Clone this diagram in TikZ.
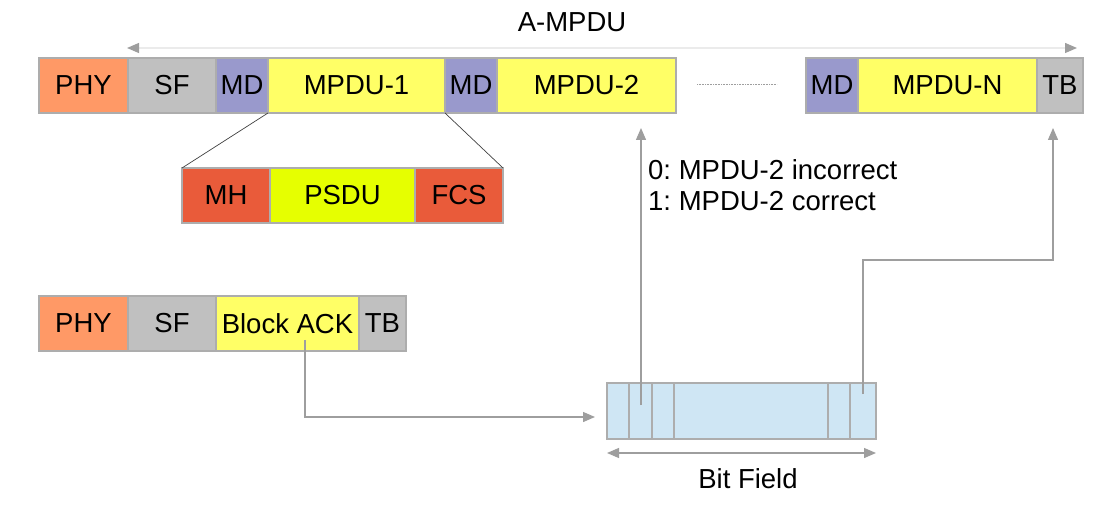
\documentclass[tikz,border=0pt]{standalone}
\usepackage{fontspec}
\setmainfont{Liberation Sans}
\usetikzlibrary{positioning,arrows.meta}
\frenchspacing

\begin{document}
\begin{tikzpicture}[
        x=1pt, y=-1pt,  % one unit is one pixel of the layout, y grows downwards
        font=\fontsize{27.5}{31}\selectfont,
        field/.style={draw=myborder, line width=1.2pt, inner sep=0pt, outer sep=0pt,
                      minimum height=55, anchor=north west},
        link/.style={draw=mygray, line width=1.3pt, -{Triangle[length=12pt,width=10pt]}},
        ]

        % 1. Define colors to match the image
        \colorlet{myborder}{black!32}
        \colorlet{mygray}{black!38}
        \definecolor{myorange}{HTML}{FF9966}
        \definecolor{mysilver}{HTML}{C0C0C0}
        \definecolor{mypurple}{HTML}{9999CC}
        \definecolor{myyellow}{HTML}{FFFF66}
        \definecolor{myred}{HTML}{E95B3A}
        \definecolor{mylime}{HTML}{E6FF00}
        \definecolor{mylightblue}{HTML}{CFE6F4}

        \useasboundingbox (0,0) rectangle (1097,510);

        % 2. The A-MPDU frame
        \node[field, fill=myorange, minimum width=89] (phyA) at (39,58) {PHY};
        \node[field, fill=mysilver, minimum width=88, right=0pt of phyA] (sfA) {SF};
        \node[field, fill=mypurple, minimum width=52, right=0pt of sfA] (mdA) {MD};
        \node[field, fill=myyellow, minimum width=177, right=0pt of mdA] (mpduA) {MPDU-1};
        \node[field, fill=mypurple, minimum width=52, right=0pt of mpduA] (mdB) {MD};
        \node[field, fill=myyellow, minimum width=179, right=0pt of mdB] (mpduB) {MPDU-2};
        \node[field, fill=mypurple, minimum width=52] (mdN) at (806,58) {MD};
        \node[field, fill=myyellow, minimum width=179, right=0pt of mdN] (mpduN) {MPDU-N};
        \node[field, fill=mysilver, minimum width=46, right=0pt of mpduN] (tbA) {TB};

        % dots between MPDU-2 and MPDU-N
        \coordinate (gapL) at (697,84);
        \coordinate (gapR) at (777,84);
        \draw[mygray, densely dotted, line width=0.6pt] (gapL) -- (gapR);

        % A-MPDU length arrow
        \coordinate (spanL) at (127,48);
        \coordinate (spanR) at (1077,48);
        \draw[draw=black!8, line width=1.3pt,
              {Triangle[length=12pt,width=10pt,color=mygray]}-{Triangle[length=12pt,width=10pt,color=mygray]}]
              (spanL) -- (spanR);
        \node[anchor=base] (ampdu) at (572,32) {A-MPDU};

        % 3. Inside of MPDU-1
        \node[field, fill=myred, minimum width=88] (mh) at (182,168) {MH};
        \node[field, fill=mylime, minimum width=145, right=0pt of mh] (psdu) {PSDU};
        \node[field, fill=myred, minimum width=88, right=0pt of psdu] (fcs) {FCS};
        \draw[black!75, line width=0.7pt] (mpduA.south west) -- (mh.north west);
        \draw[black!75, line width=0.7pt] (mpduA.south east) -- (fcs.north east);

        % 4. The Block ACK frame
        \node[field, fill=myorange, minimum width=89] (phyB) at (39,296) {PHY};
        \node[field, fill=mysilver, minimum width=88, right=0pt of phyB] (sfB) {SF};
        \node[field, fill=myyellow, minimum width=143, right=0pt of sfB] (ack) {Block ACK};
        \node[field, fill=mysilver, minimum width=47, right=0pt of ack] (tbB) {TB};

        % 5. The bit field
        \node[field, fill=mylightblue, minimum width=269, minimum height=56] (bits) at (607,383) {};
        \foreach \dx in {22,45,67,221,243}
            \draw[myborder, line width=1.2pt] ([xshift=\dx pt]bits.north west) -- ([xshift=\dx pt]bits.south west);
        \draw[draw=mygray, line width=1.3pt,
              {Triangle[length=12pt,width=10pt]}-{Triangle[length=12pt,width=10pt]}]
              ([yshift=-14pt]bits.south west) -- ([yshift=-14pt]bits.south east);
        \node[anchor=base] (bitlabel) at (748,488) {Bit Field};

        % 6. Connectors
        \coordinate (ackout) at (305,340);
        \coordinate (bit2) at (641,405);
        \coordinate (bitN) at (863,394);
        \coordinate (bend) at (863,260);
        \coordinate (tbin) at (1053,113);
        \draw[link, shorten >=12pt] (ackout) |- ([yshift=-6pt]bits.west);
        \draw[link, shorten >=15pt] (bit2) -- (bit2 |- mpduB.south);
        \draw[link, shorten >=15pt] (bitN) -- (bend) -| (tbin);

        \node[anchor=north west, align=left, inner sep=0pt] (meaning) at (648,159)
            {0: MPDU-2 incorrect\\1: MPDU-2 correct};
    \end{tikzpicture}
\end{document}
